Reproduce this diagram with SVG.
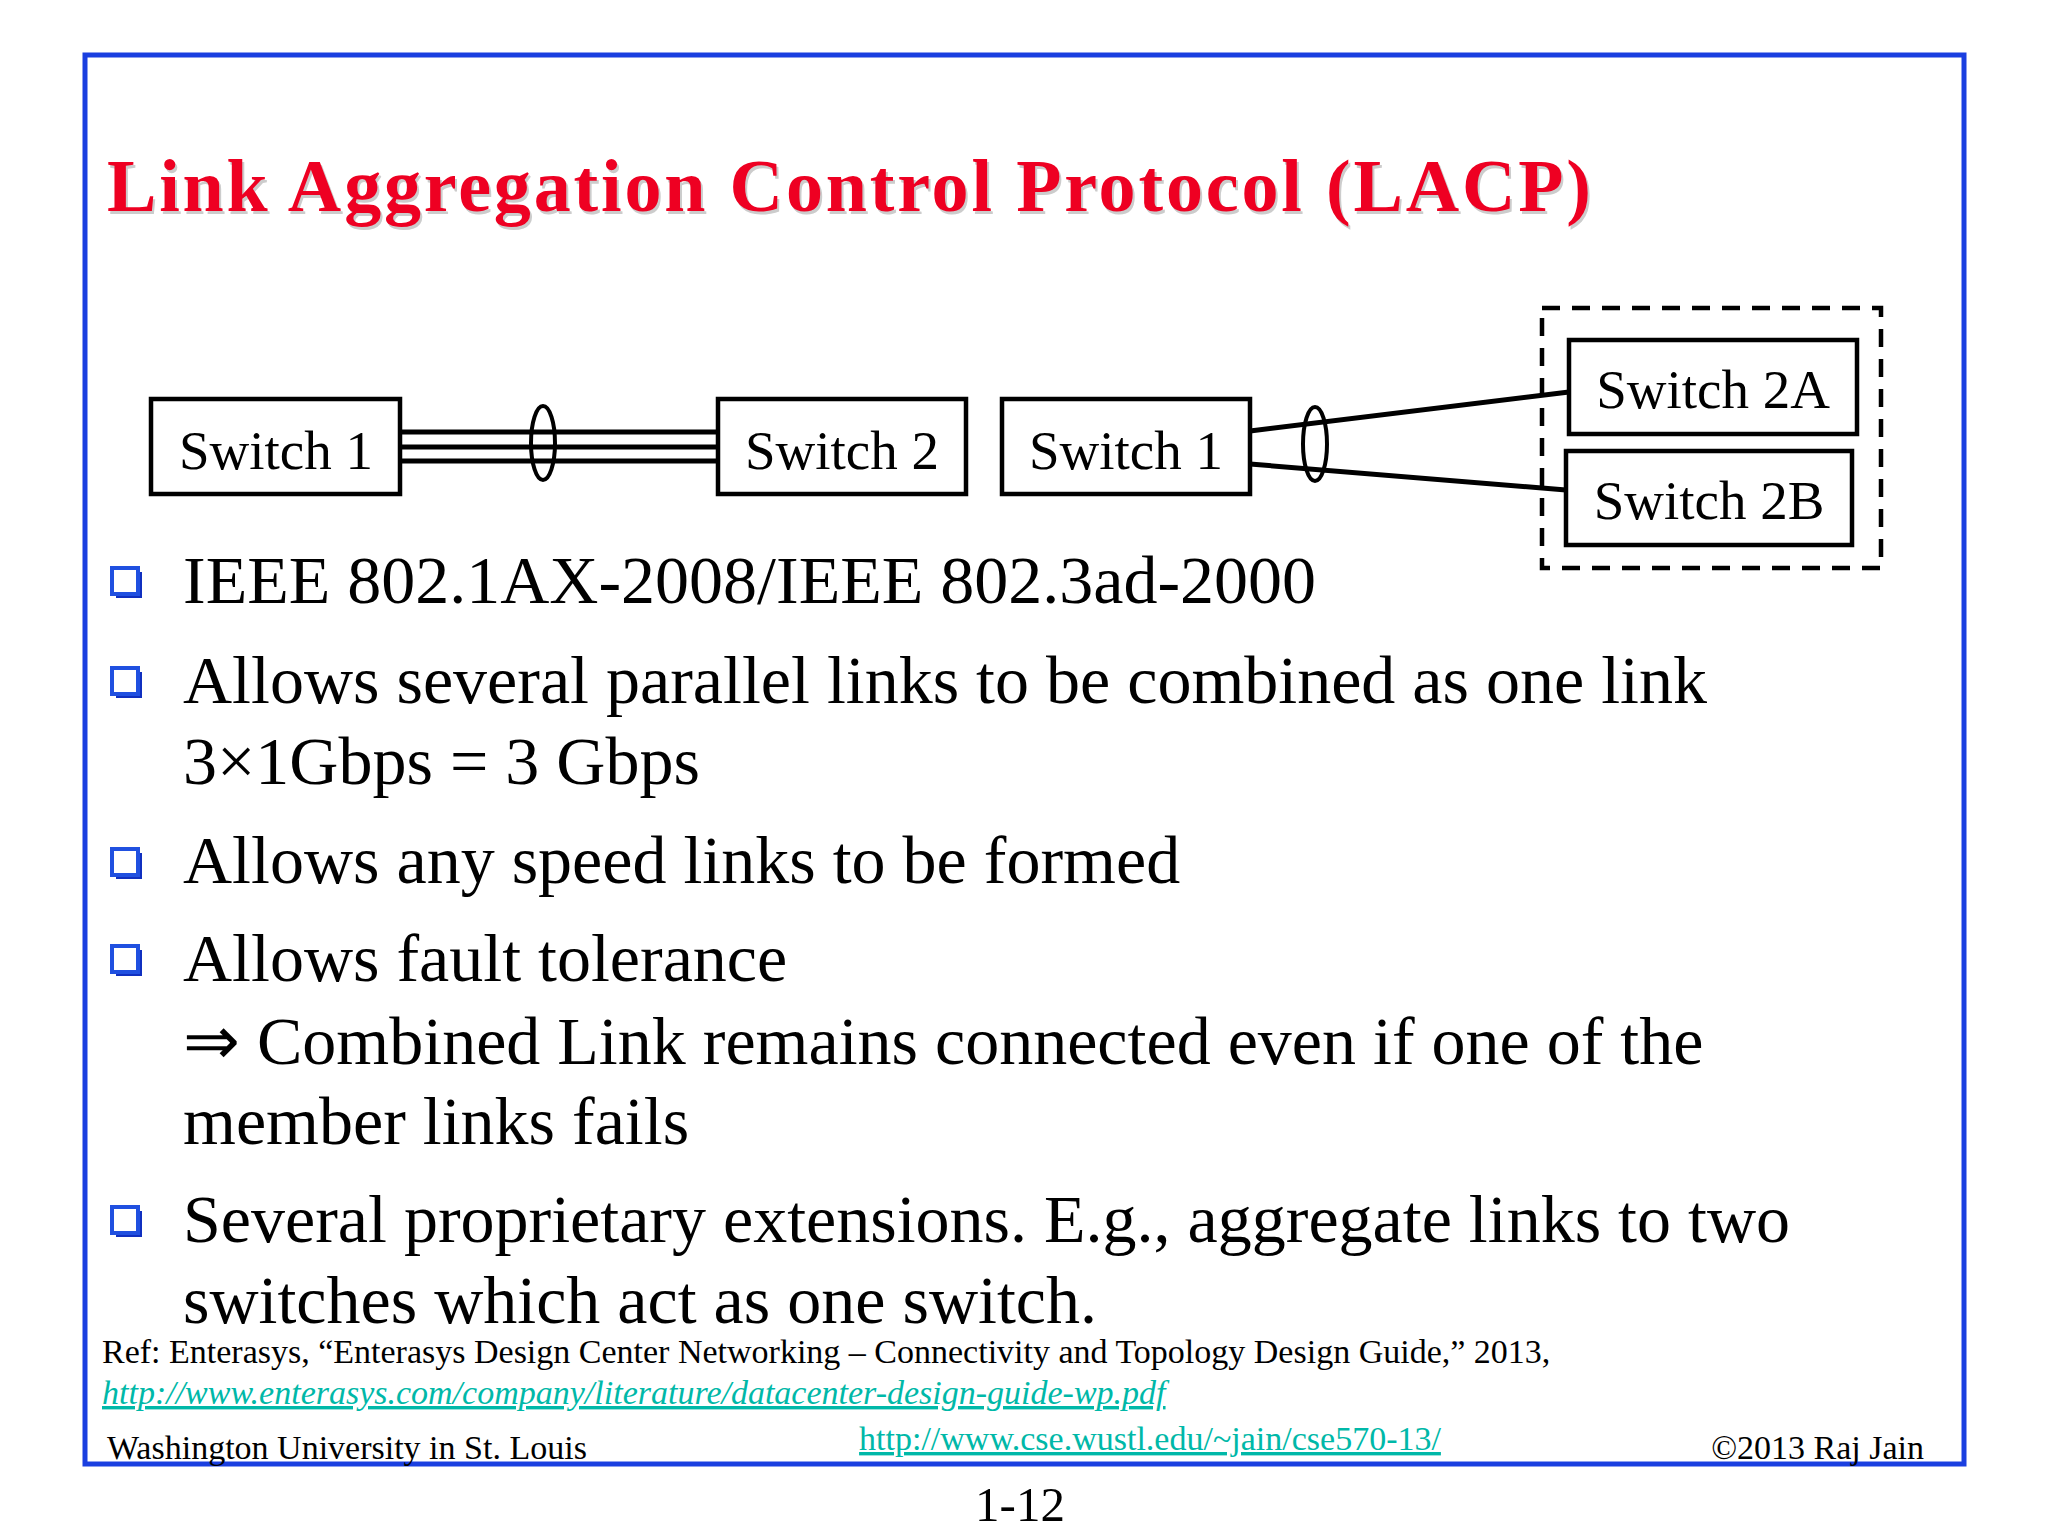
<svg xmlns="http://www.w3.org/2000/svg" width="2048" height="1536" viewBox="0 0 2048 1536">
<style>
text{font-family:"Liberation Serif","Times New Roman",serif;fill:#000}
.box{fill:#fff;stroke:#000;stroke-width:4.5}
.lbl{font-size:55px}
.b{font-size:68px}
.ln{stroke:#000;stroke-width:5;fill:none}
.url{fill:#00b8a8;text-decoration:underline;font-style:italic}
</style>
<defs>
<g id="bul"><rect x="4" y="4" width="26" height="26" fill="#1030c0"/><rect x="0" y="0" width="26" height="26" fill="#fff" stroke="#2050e0" stroke-width="4"/></g>
</defs>
<rect width="2048" height="1536" fill="#fff"/>
<rect x="85" y="55" width="1879" height="1409" fill="none" stroke="#1a3fe0" stroke-width="5"/>
<text x="109" y="214" font-size="74" font-weight="bold" style="fill:#ccc" textLength="1484">Link Aggregation Control Protocol (LACP)</text>
<text x="107" y="211" font-size="74" font-weight="bold" style="fill:#ee0022" textLength="1484">Link Aggregation Control Protocol (LACP)</text>
<g id="connectors">
<line class="ln" x1="400" y1="432" x2="718" y2="432"/>
<line class="ln" x1="400" y1="447" x2="718" y2="447"/>
<line class="ln" x1="400" y1="461" x2="718" y2="461"/>
<ellipse cx="543" cy="443" rx="12" ry="37" fill="none" stroke="#000" stroke-width="4"/>
<line class="ln" x1="1250" y1="431" x2="1569" y2="392"/>
<line class="ln" x1="1250" y1="464" x2="1566" y2="490"/>
<ellipse cx="1315" cy="444" rx="12" ry="37" fill="none" stroke="#000" stroke-width="4"/>
</g>
<rect id="group" x="1542" y="308" width="339" height="260" fill="none" stroke="#000" stroke-width="4.5" stroke-dasharray="18,12"/>
<g id="sw1"><rect class="box" x="151" y="399" width="249" height="95"/><text class="lbl" x="276" y="469" text-anchor="middle">Switch 1</text></g>
<g id="sw2"><rect class="box" x="718" y="399" width="248" height="95"/><text class="lbl" x="842" y="469" text-anchor="middle">Switch 2</text></g>
<g id="sw1b"><rect class="box" x="1002" y="399" width="248" height="95"/><text class="lbl" x="1126" y="469" text-anchor="middle">Switch 1</text></g>
<g id="sw2a"><rect class="box" x="1569" y="340" width="288" height="94"/><text class="lbl" x="1713" y="408" text-anchor="middle">Switch 2A</text></g>
<g id="sw2b"><rect class="box" x="1566" y="451" width="286" height="94"/><text class="lbl" x="1709" y="519" text-anchor="middle">Switch 2B</text></g>
<use href="#bul" x="112" y="568"/>
<text class="b" x="183" y="603">IEEE 802.1AX-2008/IEEE 802.3ad-2000</text>
<use href="#bul" x="112" y="668"/>
<text class="b" x="183" y="703">Allows several parallel links to be combined as one link</text>
<text class="b" x="183" y="784">3×1Gbps = 3 Gbps</text>
<use href="#bul" x="112" y="849"/>
<text class="b" x="183" y="883">Allows any speed links to be formed</text>
<use href="#bul" x="112" y="946"/>
<text class="b" x="183" y="981">Allows fault tolerance</text>
<text class="b" x="183" y="1064">⇒ Combined Link remains connected even if one of the</text>
<text class="b" x="183" y="1144">member links fails</text>
<use href="#bul" x="112" y="1207"/>
<text class="b" x="183" y="1242">Several proprietary extensions. E.g., aggregate links to two</text>
<text class="b" x="183" y="1323">switches which act as one switch.</text>
<text x="102" y="1363" font-size="34">Ref: Enterasys, “Enterasys Design Center Networking – Connectivity and Topology Design Guide,” 2013,</text>
<text x="102" y="1404" font-size="34" class="url">http://www.enterasys.com/company/literature/datacenter-design-guide-wp.pdf</text>
<text x="107" y="1459" font-size="34">Washington University in St. Louis</text>
<text x="1150" y="1450" font-size="34" text-anchor="middle" class="url" style="font-style:normal">http://www.cse.wustl.edu/~jain/cse570-13/</text>
<text x="1924" y="1459" font-size="34" text-anchor="end">©2013 Raj Jain</text>
<text x="1020" y="1521" font-size="49" text-anchor="middle">1-12</text>
</svg>
